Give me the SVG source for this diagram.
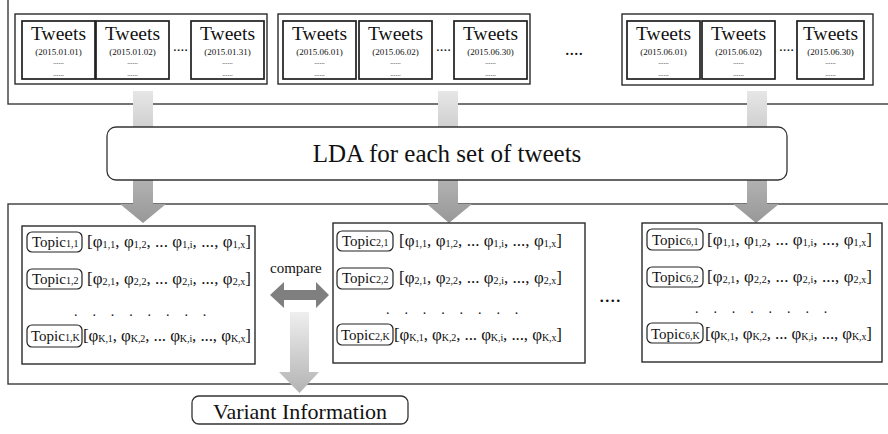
<svg xmlns="http://www.w3.org/2000/svg" width="888" height="434" viewBox="0 0 888 434">
<style>
text{font-family:"Liberation Serif","Times New Roman",serif;fill:#111}
.frame{fill:none;stroke:#3a3a3a;stroke-width:1.4}
.grp{fill:#fff;stroke:#2a2a2a;stroke-width:1.4}
.tb{fill:#fff;stroke:#1e1e1e;stroke-width:1.7}
.tw{font-size:19.5px;text-anchor:middle}
.dt{font-size:9px;text-anchor:middle}
.dl{font-size:7px;text-anchor:middle}
.dots{font-size:15px}
.topic{fill:#fff;stroke:#222;stroke-width:1.2}
.tp{font-size:15px}
.v{font-size:17px}
.s{font-size:10px}
.row{font-size:14px;letter-spacing:14.9px}
.lda{fill:#fff;stroke:#333;stroke-width:1.3}
</style>
<defs>
<linearGradient id="gDown" gradientUnits="userSpaceOnUse" x1="0" y1="91" x2="0" y2="223">
<stop offset="0" stop-color="#e6e6e6"/><stop offset="1" stop-color="#989898"/>
</linearGradient>
<linearGradient id="gVar" gradientUnits="userSpaceOnUse" x1="0" y1="312" x2="0" y2="393">
<stop offset="0" stop-color="#efefef"/><stop offset="1" stop-color="#b3b3b3"/>
</linearGradient>
</defs>

<rect class="frame" x="8" y="-2" width="884" height="106"/>
<rect class="frame" x="8" y="204" width="884" height="180"/>

<g id="connectors">
<polygon fill="url(#gDown)" points="133,91 153,91 153,204 166,204 143,223 120,204 133,204"/>
<polygon fill="url(#gDown)" points="438,91 458,91 458,204 472,204 449,223 427,204 438,204"/>
<polygon fill="url(#gDown)" points="747,91 767,91 767,204 779,204 756,223 733,204 747,204"/>
<polygon fill="#7f7f7f" points="270,295 284,282 284,290 316,290 316,282 329,295 316,308 316,300 284,300 284,308"/>
<polygon fill="url(#gVar)" points="290,312 309,312 309,372 319,372 299.5,393 279,372 290,372"/>
</g>

<g id="tweets-jan">
<rect class="grp" x="15" y="14" width="252" height="70"/>
<rect class="tb" x="22" y="21" width="73" height="58"/>
<text class="tw" x="58.5" y="40">Tweets</text><text class="dt" x="58.5" y="55">(2015.01.01)</text><text class="dl" x="58.5" y="64">......</text><text class="dl" x="58.5" y="76">......</text>
<rect class="tb" x="96" y="21" width="73" height="58"/>
<text class="tw" x="132.5" y="40">Tweets</text><text class="dt" x="132.5" y="55">(2015.01.02)</text><text class="dl" x="132.5" y="64">......</text><text class="dl" x="132.5" y="76">......</text>
<text class="dots" x="173" y="51">....</text>
<rect class="tb" x="191" y="21" width="73" height="58"/>
<text class="tw" x="227.5" y="40">Tweets</text><text class="dt" x="227.5" y="55">(2015.01.31)</text><text class="dl" x="227.5" y="64">......</text><text class="dl" x="227.5" y="76">......</text>
</g>

<g id="tweets-jun">
<rect class="grp" x="278" y="14" width="252" height="70"/>
<rect class="tb" x="283" y="21" width="73" height="58"/>
<text class="tw" x="319.5" y="40">Tweets</text><text class="dt" x="319.5" y="55">(2015.06.01)</text><text class="dl" x="319.5" y="64">......</text><text class="dl" x="319.5" y="76">......</text>
<rect class="tb" x="359" y="21" width="73" height="58"/>
<text class="tw" x="395.5" y="40">Tweets</text><text class="dt" x="395.5" y="55">(2015.06.02)</text><text class="dl" x="395.5" y="64">......</text><text class="dl" x="395.5" y="76">......</text>
<text class="dots" x="436" y="51">....</text>
<rect class="tb" x="454" y="21" width="73" height="58"/>
<text class="tw" x="490.5" y="40">Tweets</text><text class="dt" x="490.5" y="55">(2015.06.30)</text><text class="dl" x="490.5" y="64">......</text><text class="dl" x="490.5" y="76">......</text>
</g>

<text style="font-size:18px" x="565" y="55">....</text>

<g id="tweets-set6">
<rect class="grp" x="622" y="14" width="251" height="71"/>
<rect class="tb" x="627" y="21" width="73" height="58"/>
<text class="tw" x="663.5" y="40">Tweets</text><text class="dt" x="663.5" y="55">(2015.06.01)</text><text class="dl" x="663.5" y="64">......</text><text class="dl" x="663.5" y="76">......</text>
<rect class="tb" x="702" y="21" width="73" height="58"/>
<text class="tw" x="738.5" y="40">Tweets</text><text class="dt" x="738.5" y="55">(2015.06.02)</text><text class="dl" x="738.5" y="64">......</text><text class="dl" x="738.5" y="76">......</text>
<text class="dots" x="779" y="51">....</text>
<rect class="tb" x="797" y="21" width="67" height="58"/>
<text class="tw" x="830.5" y="40">Tweets</text><text class="dt" x="830.5" y="55">(2015.06.30)</text><text class="dl" x="830.5" y="64">......</text><text class="dl" x="830.5" y="76">......</text>
</g>

<g id="lda">
<rect class="lda" x="107" y="127" width="680" height="53" rx="9"/>
<text x="447" y="162" style="font-size:25px;text-anchor:middle">LDA for each set of tweets</text>
</g>

<g id="topics-1">
<rect class="grp" x="22" y="226" width="233" height="138"/>
<rect class="topic" x="27" y="232" width="55" height="20" rx="5"/>
<text class="tp" x="32" y="247">Topic<tspan class="s">1,1</tspan></text>
<text class="v" x="87" y="247" textLength="164" lengthAdjust="spacing">[φ<tspan class="s" dy="1">1,1</tspan><tspan dy="-1">, φ</tspan><tspan class="s" dy="1">1,2</tspan><tspan dy="-1">, ... φ</tspan><tspan class="s" dy="1">1,i</tspan><tspan dy="-1">, ..., φ</tspan><tspan class="s" dy="1">1,x</tspan><tspan dy="-1">]</tspan></text>
<rect class="topic" x="27" y="269" width="55" height="20" rx="5"/>
<text class="tp" x="32" y="284">Topic<tspan class="s">1,2</tspan></text>
<text class="v" x="87" y="284" textLength="164" lengthAdjust="spacing">[φ<tspan class="s" dy="1">2,1</tspan><tspan dy="-1">, φ</tspan><tspan class="s" dy="1">2,2</tspan><tspan dy="-1">, ... φ</tspan><tspan class="s" dy="1">2,i</tspan><tspan dy="-1">, ..., φ</tspan><tspan class="s" dy="1">2,x</tspan><tspan dy="-1">]</tspan></text>
<text class="row" x="74" y="316">........</text>
<rect class="topic" x="27" y="325" width="55" height="22" rx="5"/>
<text class="tp" x="31" y="341">Topic<tspan class="s">1,K</tspan></text>
<text class="v" x="83" y="341" textLength="168" lengthAdjust="spacing">[φ<tspan class="s" dy="1">K,1</tspan><tspan dy="-1">, φ</tspan><tspan class="s" dy="1">K,2</tspan><tspan dy="-1">, ... φ</tspan><tspan class="s" dy="1">K,i</tspan><tspan dy="-1">, ..., φ</tspan><tspan class="s" dy="1">K,x</tspan><tspan dy="-1">]</tspan></text>
</g>

<text x="270" y="273" style="font-size:15px">compare</text>

<g id="topics-2">
<rect class="grp" x="333" y="223" width="252" height="140"/>
<rect class="topic" x="337" y="231" width="56" height="20" rx="5"/>
<text class="tp" x="342" y="246">Topic<tspan class="s">2,1</tspan></text>
<text class="v" x="399" y="246" textLength="163" lengthAdjust="spacing">[φ<tspan class="s" dy="1">1,1</tspan><tspan dy="-1">, φ</tspan><tspan class="s" dy="1">1,2</tspan><tspan dy="-1">, ... φ</tspan><tspan class="s" dy="1">1,i</tspan><tspan dy="-1">, ..., φ</tspan><tspan class="s" dy="1">1,x</tspan><tspan dy="-1">]</tspan></text>
<rect class="topic" x="337" y="268" width="56" height="21" rx="5"/>
<text class="tp" x="342" y="283">Topic<tspan class="s">2,2</tspan></text>
<text class="v" x="399" y="283" textLength="163" lengthAdjust="spacing">[φ<tspan class="s" dy="1">2,1</tspan><tspan dy="-1">, φ</tspan><tspan class="s" dy="1">2,2</tspan><tspan dy="-1">, ... φ</tspan><tspan class="s" dy="1">2,i</tspan><tspan dy="-1">, ..., φ</tspan><tspan class="s" dy="1">2,x</tspan><tspan dy="-1">]</tspan></text>
<text class="row" x="386" y="314">........</text>
<rect class="topic" x="337" y="324" width="56" height="21" rx="5"/>
<text class="tp" x="341" y="340">Topic<tspan class="s">2,K</tspan></text>
<text class="v" x="394" y="340" textLength="168" lengthAdjust="spacing">[φ<tspan class="s" dy="1">K,1</tspan><tspan dy="-1">, φ</tspan><tspan class="s" dy="1">K,2</tspan><tspan dy="-1">, ... φ</tspan><tspan class="s" dy="1">K,i</tspan><tspan dy="-1">, ..., φ</tspan><tspan class="s" dy="1">K,x</tspan><tspan dy="-1">]</tspan></text>
</g>

<text x="599" y="302" style="font-size:22px">....</text>

<g id="topics-6">
<rect class="grp" x="642" y="223" width="240" height="139"/>
<rect class="topic" x="647" y="229" width="56" height="21" rx="5"/>
<text class="tp" x="652" y="245">Topic<tspan class="s">6,1</tspan></text>
<text class="v" x="707" y="245" textLength="165" lengthAdjust="spacing">[φ<tspan class="s" dy="1">1,1</tspan><tspan dy="-1">, φ</tspan><tspan class="s" dy="1">1,2</tspan><tspan dy="-1">, ... φ</tspan><tspan class="s" dy="1">1,i</tspan><tspan dy="-1">, ..., φ</tspan><tspan class="s" dy="1">1,x</tspan><tspan dy="-1">]</tspan></text>
<rect class="topic" x="647" y="267" width="56" height="20" rx="5"/>
<text class="tp" x="652" y="282">Topic<tspan class="s">6,2</tspan></text>
<text class="v" x="707" y="282" textLength="165" lengthAdjust="spacing">[φ<tspan class="s" dy="1">2,1</tspan><tspan dy="-1">, φ</tspan><tspan class="s" dy="1">2,2</tspan><tspan dy="-1">, ... φ</tspan><tspan class="s" dy="1">2,i</tspan><tspan dy="-1">, ..., φ</tspan><tspan class="s" dy="1">2,x</tspan><tspan dy="-1">]</tspan></text>
<text class="row" x="695" y="313">........</text>
<rect class="topic" x="647" y="323" width="56" height="20" rx="5"/>
<text class="tp" x="651" y="339">Topic<tspan class="s">6,K</tspan></text>
<text class="v" x="705" y="339" textLength="167" lengthAdjust="spacing">[φ<tspan class="s" dy="1">K,1</tspan><tspan dy="-1">, φ</tspan><tspan class="s" dy="1">K,2</tspan><tspan dy="-1">, ... φ</tspan><tspan class="s" dy="1">K,i</tspan><tspan dy="-1">, ..., φ</tspan><tspan class="s" dy="1">K,x</tspan><tspan dy="-1">]</tspan></text>
</g>

<g id="variant">
<rect class="lda" x="192" y="396" width="216" height="28" rx="7"/>
<text x="300" y="419" style="font-size:22px;text-anchor:middle">Variant Information</text>
</g>
</svg>
